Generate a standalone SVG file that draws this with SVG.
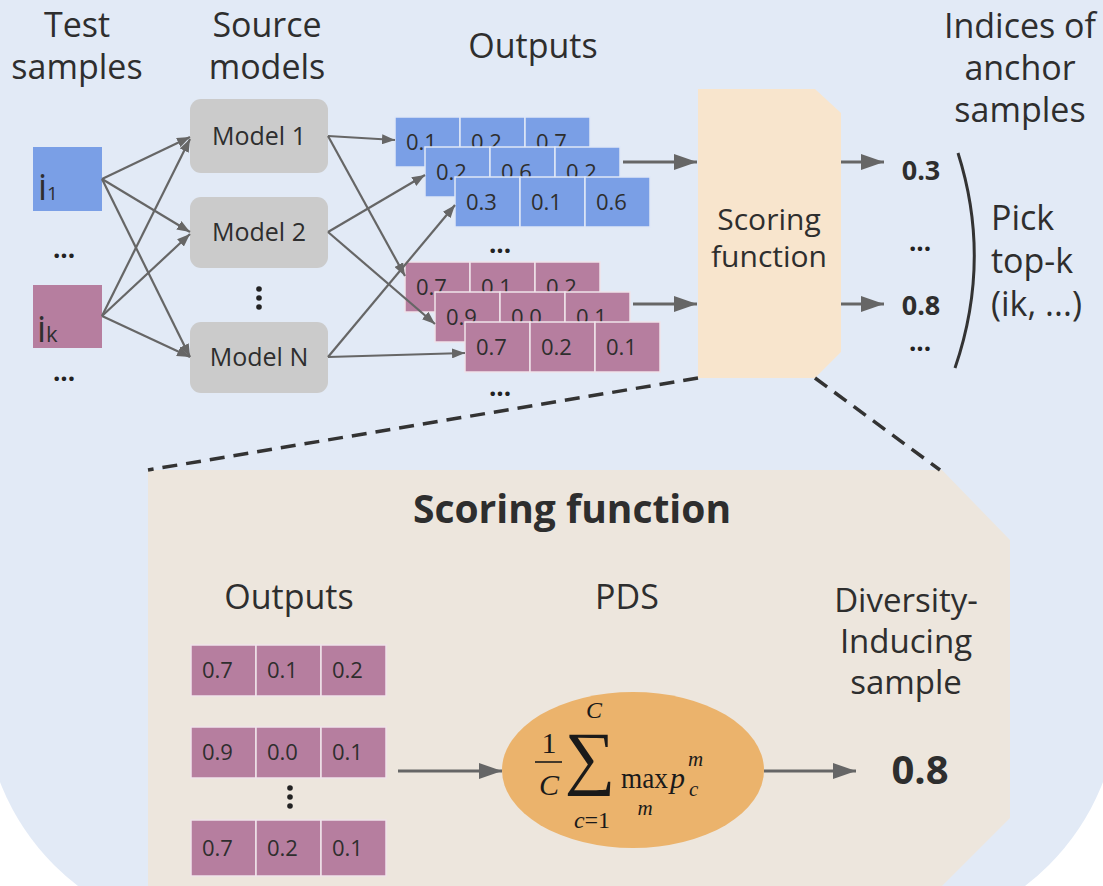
<svg xmlns="http://www.w3.org/2000/svg" width="1103" height="886" viewBox="0 0 1103 886">
<defs>
<style>
.t{font-family:"Open Sans","Noto Sans","Liberation Sans",sans-serif;fill:#2e2e2e}
.h{font-size:34px;text-anchor:middle}
.cell-b{fill:#7a9fe6;stroke:#dfe7f6;stroke-width:1.5}
.cell-p{fill:#b67e9f;stroke:#efe3ea;stroke-width:1.5}
.num{font-family:"Open Sans","Noto Sans","Liberation Sans",sans-serif;font-size:22px;fill:#2e2e2e}
.model{fill:#cbcbcb}
.c{stroke:#666;stroke-width:2.2;fill:none}
.cb{stroke:#666;stroke-width:3;fill:none}
.dash{stroke:#333;stroke-width:3.5;stroke-dasharray:15 9;fill:none}
.dots{font-family:"Open Sans","Noto Sans","Liberation Sans",sans-serif;font-weight:bold;font-size:26px;fill:#222;text-anchor:middle}
.m{font-family:"Liberation Serif","DejaVu Serif",serif;fill:#1a1a1a}
</style>
<marker id="ah" markerUnits="userSpaceOnUse" viewBox="0 0 13 10" markerWidth="13" markerHeight="10" refX="13" refY="5" orient="auto"><path d="M0,0 L13,5 L0,10 z" fill="#666"/></marker>
<marker id="AH" markerUnits="userSpaceOnUse" viewBox="0 0 23 16" markerWidth="23" markerHeight="16" refX="23" refY="8" orient="auto"><path d="M0,0 L23,8 L0,16 z" fill="#666"/></marker>
</defs>
<rect x="0" y="0" width="1103" height="886" fill="#ffffff"/>
<rect id="background" x="-16" y="-300" width="1135" height="1235" rx="239" ry="239" fill="#e2eaf6"/>

<g id="scoring-panel">
<path d="M148,470 L942,470 L1010,540 L1010,818 L942,886 L148,886 Z" fill="#ede6dd"/>
<text class="t" x="572" y="523" font-size="39" font-weight="bold" text-anchor="middle">Scoring function</text>
<text class="t h" x="289" y="609">Outputs</text>
<text class="t h" x="627" y="609">PDS</text>
<text class="t" x="906" y="612" font-size="33" text-anchor="middle">Diversity-</text>
<text class="t" x="906" y="653" font-size="33" text-anchor="middle">Inducing</text>
<text class="t" x="906" y="694" font-size="33" text-anchor="middle">sample</text>
<text class="t" x="920" y="784" font-size="40" font-weight="bold" text-anchor="middle" fill="#2a2a2a">0.8</text>
</g>

<g id="headers">
<text class="t h" x="77" y="37">Test</text>
<text class="t h" x="77" y="79">samples</text>
<text class="t h" x="267" y="37">Source</text>
<text class="t h" x="267" y="79">models</text>
<text class="t h" x="533" y="58">Outputs</text>
<text class="t h" x="1020" y="38">Indices of</text>
<text class="t h" x="1020" y="80">anchor</text>
<text class="t h" x="1020" y="122">samples</text>
</g>

<g id="test-sample-1">
<rect x="33" y="147" width="69" height="64" fill="#7a9fe6"/>
<text class="t" x="38" y="200" font-size="36">i<tspan font-size="19">1</tspan></text>
</g>
<text class="dots" x="64" y="258">...</text>
<g id="test-sample-k">
<rect x="33" y="285" width="69" height="63" fill="#b67e9f"/>
<text class="t" x="37" y="342" font-size="36">i<tspan font-size="22">k</tspan></text>
</g>
<text class="dots" x="64" y="381">...</text>

<g id="model-1"><rect class="model" x="190" y="99" width="138" height="74" rx="11"/><text class="t" x="259" y="145" font-size="25" text-anchor="middle">Model 1</text></g>
<g id="model-2"><rect class="model" x="190" y="197" width="138" height="71" rx="11"/><text class="t" x="259" y="241" font-size="25" text-anchor="middle">Model 2</text></g>
<g id="model-dots" fill="#222"><circle cx="259" cy="289" r="2.8"/><circle cx="259" cy="298" r="2.8"/><circle cx="259" cy="307" r="2.8"/></g>
<g id="model-n"><rect class="model" x="190" y="322" width="138" height="71" rx="11"/><text class="t" x="259" y="366" font-size="25" text-anchor="middle">Model N</text></g>

<g id="outputs-blue-1">
<rect class="cell-b" x="395" y="117" width="65" height="50"/><rect class="cell-b" x="460" y="117" width="65" height="50"/><rect class="cell-b" x="525" y="117" width="65" height="50"/>
<text class="num" x="406" y="150">0.1</text><text class="num" x="471" y="150">0.2</text><text class="num" x="536" y="150">0.7</text>
</g>
<g id="outputs-blue-2">
<rect class="cell-b" x="425" y="147" width="65" height="50"/><rect class="cell-b" x="490" y="147" width="65" height="50"/><rect class="cell-b" x="555" y="147" width="65" height="50"/>
<text class="num" x="436" y="180">0.2</text><text class="num" x="501" y="180">0.6</text><text class="num" x="566" y="180">0.2</text>
</g>
<g id="outputs-blue-3">
<rect class="cell-b" x="455" y="177" width="65" height="50"/><rect class="cell-b" x="520" y="177" width="65" height="50"/><rect class="cell-b" x="585" y="177" width="65" height="50"/>
<text class="num" x="466" y="210">0.3</text><text class="num" x="531" y="210">0.1</text><text class="num" x="596" y="210">0.6</text>
</g>
<text class="dots" x="500" y="253">...</text>
<g id="outputs-pink-1">
<rect class="cell-p" x="405" y="262" width="65" height="50"/><rect class="cell-p" x="470" y="262" width="65" height="50"/><rect class="cell-p" x="535" y="262" width="65" height="50"/>
<text class="num" x="416" y="295">0.7</text><text class="num" x="481" y="295">0.1</text><text class="num" x="546" y="295">0.2</text>
</g>
<g id="outputs-pink-2">
<rect class="cell-p" x="435" y="292" width="65" height="50"/><rect class="cell-p" x="500" y="292" width="65" height="50"/><rect class="cell-p" x="565" y="292" width="65" height="50"/>
<text class="num" x="446" y="325">0.9</text><text class="num" x="511" y="325">0.0</text><text class="num" x="576" y="325">0.1</text>
</g>
<g id="outputs-pink-3">
<rect class="cell-p" x="465" y="322" width="65" height="50"/><rect class="cell-p" x="530" y="322" width="65" height="50"/><rect class="cell-p" x="595" y="322" width="65" height="50"/>
<text class="num" x="476" y="355">0.7</text><text class="num" x="541" y="355">0.2</text><text class="num" x="606" y="355">0.1</text>
</g>
<text class="dots" x="500" y="396">...</text>

<g id="scoring-box">
<path d="M698,89 L815,89 L841,113 L841,352 L815,378 L698,378 Z" fill="#f8e5cd"/>
<text class="t" x="769" y="230" font-size="30" text-anchor="middle">Scoring</text>
<text class="t" x="769" y="267" font-size="30" text-anchor="middle">function</text>
</g>

<g id="scores">
<text class="t" x="921" y="180" font-size="27" font-weight="bold" text-anchor="middle" fill="#2a2a2a">0.3</text>
<text class="dots" x="920" y="251">...</text>
<text class="t" x="921" y="315" font-size="27" font-weight="bold" text-anchor="middle" fill="#2a2a2a">0.8</text>
<text class="dots" x="920" y="351">...</text>
<path d="M958,153 Q992,260 955,368" stroke="#333" stroke-width="3" fill="none"/>
<text class="t" x="991" y="230" font-size="34">Pick</text>
<text class="t" x="991" y="273" font-size="34">top-k</text>
<text class="t" x="991" y="316" font-size="34">(ik, ...)</text>
</g>

<g id="panel-row-1">
<rect class="cell-p" x="191" y="645" width="65" height="51"/><rect class="cell-p" x="256" y="645" width="65" height="51"/><rect class="cell-p" x="321" y="645" width="65" height="51"/>
<text class="num" x="202" y="678">0.7</text><text class="num" x="267" y="678">0.1</text><text class="num" x="332" y="678">0.2</text>
</g>
<g id="panel-row-2">
<rect class="cell-p" x="191" y="727" width="65" height="51"/><rect class="cell-p" x="256" y="727" width="65" height="51"/><rect class="cell-p" x="321" y="727" width="65" height="51"/>
<text class="num" x="202" y="760">0.9</text><text class="num" x="267" y="760">0.0</text><text class="num" x="332" y="760">0.1</text>
</g>
<g id="panel-dots" fill="#222"><circle cx="290" cy="788" r="2.8"/><circle cx="290" cy="797" r="2.8"/><circle cx="290" cy="806" r="2.8"/></g>
<g id="panel-row-3">
<rect class="cell-p" x="191" y="820" width="65" height="56"/><rect class="cell-p" x="256" y="820" width="65" height="56"/><rect class="cell-p" x="321" y="820" width="65" height="56"/>
<text class="num" x="202" y="856">0.7</text><text class="num" x="267" y="856">0.2</text><text class="num" x="332" y="856">0.1</text>
</g>

<g id="pds-ellipse">
<ellipse cx="633" cy="770" rx="131" ry="78" fill="#ebb36c"/>
<text class="m" x="549" y="753" font-size="30" text-anchor="middle">1</text>
<line x1="535" y1="762" x2="562" y2="762" stroke="#1a1a1a" stroke-width="1.6"/>
<text class="m" x="549" y="795" font-size="30" font-style="italic" text-anchor="middle">C</text>
<text class="m" x="590" y="781" font-size="71" text-anchor="middle">∑</text>
<text class="m" x="594" y="718" font-size="24" font-style="italic" text-anchor="middle">C</text>
<text class="m" x="592" y="828" font-size="24" text-anchor="middle"><tspan font-style="italic">c</tspan>=1</text>
<text class="m" x="621" y="788" font-size="30" textLength="47" lengthAdjust="spacingAndGlyphs">max</text>
<text class="m" x="645" y="815" font-size="21" font-style="italic" text-anchor="middle">m</text>
<text class="m" x="670" y="788" font-size="30" font-style="italic">p</text>
<text class="m" x="688" y="766" font-size="21" font-style="italic">m</text>
<text class="m" x="689" y="796" font-size="21" font-style="italic">c</text>
</g>

<g id="connectors">
<line class="c" x1="102" y1="179" x2="190" y2="137" marker-end="url(#ah)"/>
<line class="c" x1="102" y1="179" x2="190" y2="232" marker-end="url(#ah)"/>
<line class="c" x1="102" y1="179" x2="190" y2="357" marker-end="url(#ah)"/>
<line class="c" x1="102" y1="316" x2="190" y2="139" marker-end="url(#ah)"/>
<line class="c" x1="102" y1="316" x2="190" y2="234" marker-end="url(#ah)"/>
<line class="c" x1="102" y1="316" x2="190" y2="357" marker-end="url(#ah)"/>
<line class="c" x1="328" y1="136" x2="395" y2="140" marker-end="url(#ah)"/>
<line class="c" x1="328" y1="136" x2="405" y2="276" marker-end="url(#ah)"/>
<line class="c" x1="328" y1="232" x2="425" y2="175" marker-end="url(#ah)"/>
<line class="c" x1="328" y1="232" x2="435" y2="324" marker-end="url(#ah)"/>
<line class="c" x1="328" y1="357" x2="455" y2="205" marker-end="url(#ah)"/>
<line class="c" x1="328" y1="357" x2="465" y2="353" marker-end="url(#ah)"/>
<line class="cb" x1="623" y1="162" x2="697" y2="162" marker-end="url(#AH)"/>
<line class="cb" x1="633" y1="304" x2="697" y2="304" marker-end="url(#AH)"/>
<line class="cb" x1="841" y1="162" x2="884" y2="162" marker-end="url(#AH)"/>
<line class="cb" x1="841" y1="304" x2="884" y2="304" marker-end="url(#AH)"/>
<line class="dash" x1="698" y1="378" x2="148" y2="470"/>
<line class="dash" x1="815" y1="378" x2="940" y2="470"/>
<line class="cb" x1="398" y1="771" x2="502" y2="771" marker-end="url(#AH)"/>
<line class="cb" x1="764" y1="771" x2="856" y2="771" marker-end="url(#AH)"/>
</g>
</svg>
